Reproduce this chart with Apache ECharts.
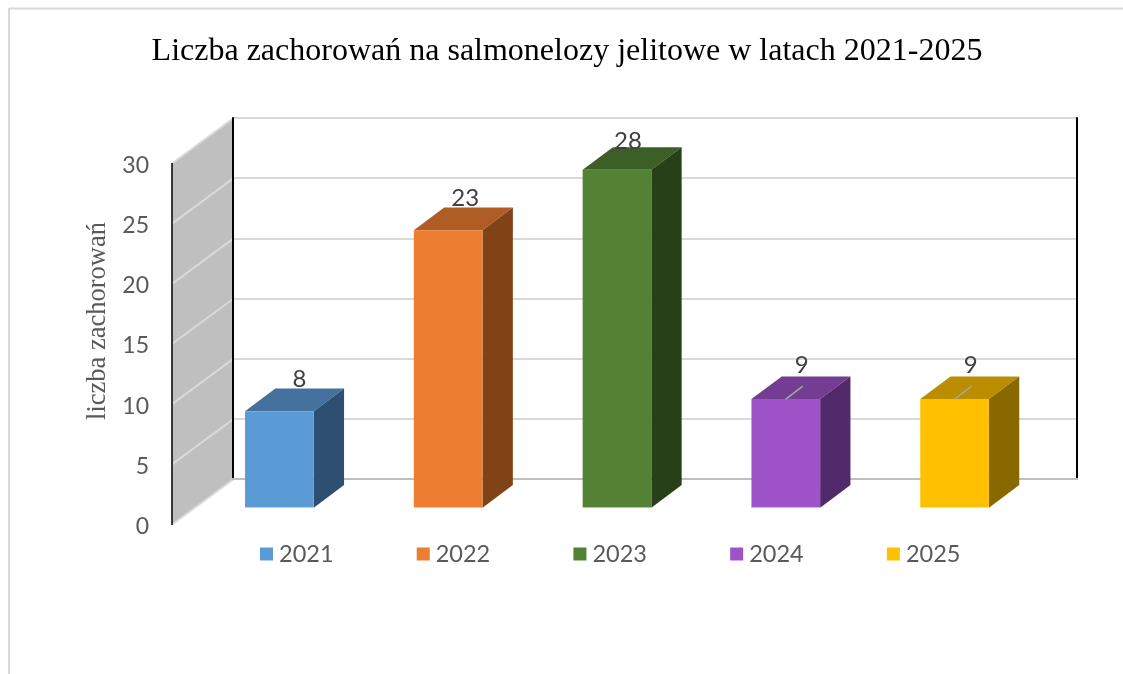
<!DOCTYPE html>
<html lang="pl">
<head>
<meta charset="UTF-8">
<title>Liczba zachorowań</title>
<style>html,body{margin:0;padding:0;background:#fff}</style>
</head>
<body>
<div id="main" style="width:1123px;height:674px;"></div>
<script src="https://cdn.jsdelivr.net/npm/echarts@6/dist/echarts.min.js"></script>
<script>
var years = ['2021', '2022', '2023', '2024', '2025'];
var cases = [8, 23, 28, 9, 9];
var yTicks = [0, 5, 10, 15, 20, 25, 30];
var titleText = 'Liczba zachorowań na salmonelozy jelitowe w latach 2021-2025';
var yName = 'liczba zachorowań';

// front, top, side colour of each bar
var frontColors = ['#5b9bd5', '#ed7d31', '#548235', '#9e54c8', '#ffc000'];
var topColors = ['#44719e', '#b05c25', '#3c5e27', '#733d93', '#bb8d00'];
var sideColors = ['#2d5072', '#7f4315', '#274017', '#52296b', '#8a6800'];

// label nudge from the front top centre of the bar, excel puts them a bit unevenly
var labelNudge = [[20, -32], [17, -32], [11, -29], [16, -34], [16, -34]];
var leaderYears = ['2024', '2025'];

// perspective: wall depth and bar depth
var wallDx = 61, wallDy = -45;
var barDx = 30.3, barDy = -22.7;
var barW = 68.7;

function wallItem(params, api) {
  var left = params.coordSys.x;
  var v = api.value(0);
  var y = api.coord([0, v])[1];
  var els = [];
  if (params.dataIndex === 0) {
    var y0 = y, y1 = api.coord([0, yTicks[yTicks.length - 1]])[1];
    els.push({
      type: 'polygon',
      shape: { points: [[left, y0], [left + wallDx, y0 + wallDy], [left + wallDx, y1 + wallDy], [left, y1]] },
      style: { fill: '#bfbfbf' }
    });
  }
  els.push({
    type: 'line',
    shape: { x1: left, y1: y, x2: left + wallDx, y2: y + wallDy },
    style: { stroke: '#d9d9d9', lineWidth: 2 }
  });
  return { type: 'group', children: els };
}

function barItem(i) {
  return function (params, api) {
    var top = api.coord([api.value(0), api.value(1)]);
    var base = api.coord([api.value(0), 0]);
    var x0 = top[0] - barW / 2, x1 = top[0] + barW / 2;
    var els = [
      { type: 'polygon', shape: { points: [[x0, top[1]], [x0 + barDx, top[1] + barDy], [x1 + barDx, top[1] + barDy], [x1, top[1]]] }, style: { fill: topColors[i] } },
      { type: 'polygon', shape: { points: [[x1, top[1]], [x1 + barDx, top[1] + barDy], [x1 + barDx, base[1] + barDy], [x1, base[1]]] }, style: { fill: sideColors[i] } },
      { type: 'rect', shape: { x: x0, y: top[1], width: barW, height: base[1] - top[1] }, style: { fill: frontColors[i] } },
      // thin pale edge under the front face
      { type: 'line', shape: { x1: x0, y1: base[1], x2: x1, y2: base[1] }, style: { stroke: '#fff', opacity: 0.5, lineWidth: 1 } }
    ];
    if (leaderYears.indexOf(years[i]) >= 0) {
      els.push({
        type: 'line',
        shape: { x1: top[0], y1: top[1], x2: top[0] + 17, y2: top[1] - 13 },
        style: { stroke: '#a6a6a6', lineWidth: 1.5 }
      });
    }
    els.push({
      type: 'text',
      style: {
        text: String(cases[i]),
        x: top[0] + labelNudge[i][0], y: top[1] + labelNudge[i][1],
        align: 'center', verticalAlign: 'middle',
        fontFamily: 'Lato', fontSize: 24, fill: '#404040'
      }
    });
    return { type: 'group', children: els };
  };
}

var hiddenX = function (grid, pos) {
  return { type: 'category', data: years, gridIndex: grid, position: pos, boundaryGap: true,
    axisLabel: { show: false }, axisTick: { show: false }, axisLine: { show: false } };
};
var valueAxis = { type: 'value', min: 0, max: 30, interval: 5 };

var xBack = hiddenX(0, 'bottom');
xBack.z = 3;
xBack.axisLine = { show: true, lineStyle: { color: '#bfbfbf', width: 2 } };
var xBackTop = hiddenX(0, 'top');
xBackTop.z = 3;
xBackTop.axisLine = { show: true, lineStyle: { color: '#bfbfbf', width: 2 } };

var series = [{
  type: 'custom',
  coordinateSystem: 'cartesian2d',
  xAxisIndex: 2,
  yAxisIndex: 2,
  z: 2,
  silent: true,
  renderItem: wallItem,
  data: yTicks.map(function (t) { return [t]; }),
  encode: { y: 0 }
}];
years.forEach(function (year, i) {
  series.push({
    name: year,
    type: 'custom',
    coordinateSystem: 'cartesian2d',
    xAxisIndex: 3,
    yAxisIndex: 3,
    z: 5,
    itemStyle: { color: frontColors[i] },
    renderItem: barItem(i),
    data: [[i, cases[i]]],
    encode: { x: 0, y: 1 }
  });
});

var option = {
  animation: false,
  backgroundColor: '#fff',
  title: {
    text: titleText,
    left: 562, top: 31, textAlign: 'center',
    textStyle: { fontFamily: 'Liberation Serif', fontSize: 32, fontWeight: 'normal', color: '#000' }
  },
  legend: {
    data: years,
    left: 260, top: 542,
    padding: 0,
    icon: 'rect',
    itemWidth: 13, itemHeight: 13, itemGap: 83.2,
    selectedMode: false,
    textStyle: { fontFamily: 'Lato', fontSize: 23.5, color: '#595959', padding: [0, 0, 0, 1] }
  },
  grid: [
    { left: 233, top: 118, width: 844, height: 361 },   // back wall
    { left: 172, top: 163.5, width: 844, height: 361 }, // front plane of the side wall
    { left: 195, top: 145.7, width: 844, height: 362 }, // plane of the bars
    { left: 172, top: 165.5, width: 844, height: 361 }  // tick labels sit a bit lower than the wall
  ],
  xAxis: [xBack, xBackTop, hiddenX(1, 'bottom'), hiddenX(2, 'bottom'), hiddenX(3, 'bottom')],
  yAxis: [
    Object.assign({}, valueAxis, { gridIndex: 0, z: 3, axisLabel: { show: false }, axisTick: { show: false },
      axisLine: { show: true, lineStyle: { color: '#000', width: 2 } },
      splitLine: { show: true, lineStyle: { color: '#d9d9d9', width: 2 } } }),
    Object.assign({}, valueAxis, { gridIndex: 0, z: 3, position: 'right', axisLabel: { show: false }, axisTick: { show: false },
      axisLine: { show: true, lineStyle: { color: '#000', width: 2 } }, splitLine: { show: false } }),
    Object.assign({}, valueAxis, { gridIndex: 1, z: 3, axisTick: { show: false }, axisLabel: { show: false },
      axisLine: { show: true, lineStyle: { color: '#000', width: 1.5 } }, splitLine: { show: false } }),
    Object.assign({}, valueAxis, { gridIndex: 2, axisLabel: { show: false }, axisTick: { show: false },
      axisLine: { show: false }, splitLine: { show: false } }),
    Object.assign({}, valueAxis, { gridIndex: 3, axisTick: { show: false }, axisLine: { show: false }, splitLine: { show: false },
      axisLabel: { margin: 23, fontFamily: 'Lato', fontSize: 23, color: '#595959' },
      name: yName, nameLocation: 'middle', nameRotate: 90, nameGap: 59,
      nameTextStyle: { fontFamily: 'Liberation Serif', fontSize: 26.5, color: '#595959', padding: [0, 0, 0, 50] } })
  ],
  graphic: [
    { type: 'line', shape: { x1: 9, y1: 8.5, x2: 1123, y2: 8.5 }, style: { stroke: '#d9d9d9', lineWidth: 2 } },
    { type: 'line', shape: { x1: 9, y1: 8, x2: 9, y2: 674 }, style: { stroke: '#d9d9d9', lineWidth: 2 } }
  ],
  series: series
};

var myChart = echarts.init(document.getElementById('main'));
myChart.setOption(option);
</script>
</body>
</html>
